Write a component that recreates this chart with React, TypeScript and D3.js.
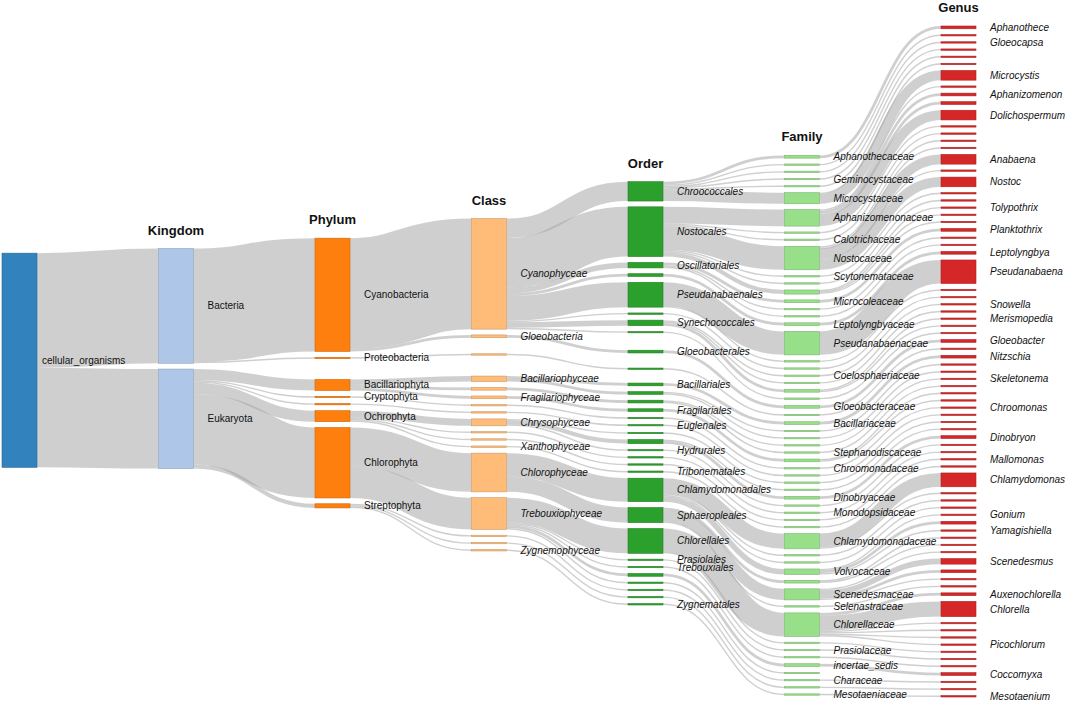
import React, { useMemo } from "react";
import * as d3 from "d3";

const ROOT = "cellular_organisms";

const kingdoms: [string, string][] = [
  ["Bacteria", ROOT],
  ["Eukaryota", ROOT],
];

const phyla: [string, string][] = [
  ["Cyanobacteria", "Bacteria"],
  ["Proteobacteria", "Bacteria"],
  ["Bacillariophyta", "Eukaryota"],
  ["Cryptophyta", "Eukaryota"],
  ["Euglenozoa", "Eukaryota"],
  ["Ochrophyta", "Eukaryota"],
  ["Chlorophyta", "Eukaryota"],
  ["Streptophyta", "Eukaryota"],
];

const classes: [string, string][] = [
  ["Cyanophyceae", "Cyanobacteria"],
  ["Gloeobacteria", "Cyanobacteria"],
  ["Betaproteobacteria", "Proteobacteria"],
  ["Bacillariophyceae", "Bacillariophyta"],
  ["Mediophyceae", "Bacillariophyta"],
  ["Fragilariophyceae", "Bacillariophyta"],
  ["Cryptophyceae", "Cryptophyta"],
  ["Euglenophyceae", "Euglenozoa"],
  ["Chrysophyceae", "Ochrophyta"],
  ["Eustigmatophyceae", "Ochrophyta"],
  ["Synurophyceae", "Ochrophyta"],
  ["Xanthophyceae", "Ochrophyta"],
  ["Chlorophyceae", "Chlorophyta"],
  ["Trebouxiophyceae", "Chlorophyta"],
  ["Charophyceae", "Streptophyta"],
  ["Klebsormidiophyceae", "Streptophyta"],
  ["Zygnemophyceae", "Streptophyta"],
];

const orders: [string, string][] = [
  ["Chroococcales", "Cyanophyceae"],
  ["Nostocales", "Cyanophyceae"],
  ["Oscillatoriales", "Cyanophyceae"],
  ["Leptolyngbyales", "Cyanophyceae"],
  ["Pseudanabaenales", "Cyanophyceae"],
  ["Chroococcidiopsidales", "Cyanophyceae"],
  ["Synechococcales", "Cyanophyceae"],
  ["Spirulinales", "Cyanophyceae"],
  ["Gloeobacterales", "Gloeobacteria"],
  ["Burkholderiales", "Betaproteobacteria"],
  ["Bacillariales", "Bacillariophyceae"],
  ["Naviculales", "Bacillariophyceae"],
  ["Thalassiosirales", "Mediophyceae"],
  ["Fragilariales", "Fragilariophyceae"],
  ["Pyrenomonadales", "Cryptophyceae"],
  ["Euglenales", "Euglenophyceae"],
  ["Ochromonadales", "Chrysophyceae"],
  ["Chromulinales", "Chrysophyceae"],
  ["Hydrurales", "Chrysophyceae"],
  ["Eustigmatales", "Eustigmatophyceae"],
  ["Synurales", "Synurophyceae"],
  ["Tribonematales", "Xanthophyceae"],
  ["Chlamydomonadales", "Chlorophyceae"],
  ["Sphaeropleales", "Chlorophyceae"],
  ["Chlorellales", "Trebouxiophyceae"],
  ["Prasiolales", "Trebouxiophyceae"],
  ["Trebouxiales", "Trebouxiophyceae"],
  ["Trebouxiophyceae_ordo", "Trebouxiophyceae"],
  ["Watanabeales", "Trebouxiophyceae"],
  ["Charales", "Charophyceae"],
  ["Klebsormidiales", "Klebsormidiophyceae"],
  ["Zygnematales", "Zygnemophyceae"],
];

// [family, order, reads assigned to the family itself (leaf families only)]
const families: [string, string, number?][] = [
  ["Aphanothecaceae", "Chroococcales"],
  ["Chroococcaceae", "Chroococcales"],
  ["Cyanothecaceae", "Chroococcales"],
  ["Geminocystaceae", "Chroococcales"],
  ["Cyanobacteriaceae", "Chroococcales"],
  ["Microcystaceae", "Chroococcales"],
  ["Aphanizomenonaceae", "Nostocales"],
  ["Hapalosiphonaceae", "Nostocales"],
  ["Calotrichaceae", "Nostocales"],
  ["Nostocaceae", "Nostocales"],
  ["Scytonemataceae", "Nostocales"],
  ["Rivulariaceae", "Nostocales"],
  ["Tolypothrichaceae", "Nostocales"],
  ["Microcoleaceae", "Oscillatoriales"],
  ["Oscillatoriaceae", "Oscillatoriales"],
  ["Gomontiellaceae", "Oscillatoriales"],
  ["Leptolyngbyaceae", "Leptolyngbyales"],
  ["Pseudanabaenaceae", "Pseudanabaenales"],
  ["Prochlorotrichaceae", "Pseudanabaenales"],
  ["Chroococcidiopsidaceae", "Chroococcidiopsidales"],
  ["Coelosphaeriaceae", "Synechococcales"],
  ["Synechococcaceae", "Synechococcales"],
  ["Merismopediaceae", "Synechococcales"],
  ["Spirulinaceae", "Spirulinales"],
  ["Gloeobacteraceae", "Gloeobacterales"],
  ["Comamonadaceae", "Burkholderiales"],
  ["Bacillariaceae", "Bacillariales"],
  ["Naviculaceae", "Naviculales"],
  ["Pinnulariaceae", "Naviculales"],
  ["Skeletonemataceae", "Thalassiosirales"],
  ["Stephanodiscaceae", "Thalassiosirales"],
  ["Fragilariaceae", "Fragilariales"],
  ["Chroomonadaceae", "Pyrenomonadales"],
  ["Euglenaceae", "Euglenales"],
  ["Ochromonadaceae", "Ochromonadales"],
  ["Chromulinaceae", "Chromulinales"],
  ["Dinobryaceae", "Chromulinales"],
  ["Hydruraceae", "Hydrurales"],
  ["Monodopsidaceae", "Eustigmatales"],
  ["Mallomonadaceae", "Synurales"],
  ["Tribonemataceae", "Tribonematales"],
  ["Chlamydomonadaceae", "Chlamydomonadales"],
  ["Haematococcaceae", "Chlamydomonadales"],
  ["Dunaliellaceae", "Chlamydomonadales"],
  ["Volvocaceae", "Chlamydomonadales"],
  ["Hydrodictyaceae", "Sphaeropleales"],
  ["Scenedesmaceae", "Sphaeropleales"],
  ["Selenastraceae", "Sphaeropleales"],
  ["Chlorellaceae", "Chlorellales"],
  ["Oocystaceae", "Chlorellales"],
  ["Prasiolaceae", "Prasiolales"],
  ["Trebouxiaceae", "Trebouxiales"],
  ["incertae_sedis", "Trebouxiophyceae_ordo"],
  ["Watanabeaceae", "Watanabeales", 1],
  ["Characeae", "Charales"],
  ["Klebsormidiaceae", "Klebsormidiales"],
  ["Mesotaeniaceae", "Zygnematales"],
];

const genera: [string, string, number][] = [
  ["Aphanothece", "Aphanothecaceae", 2],
  ["Chroococcus", "Chroococcaceae", 1],
  ["Gloeocapsa", "Cyanothecaceae", 1],
  ["Geminocystis", "Geminocystaceae", 1],
  ["Cyanobacterium", "Cyanobacteriaceae", 1],
  ["Sphaerocavum", "Microcystaceae", 1],
  ["Microcystis", "Microcystaceae", 7],
  ["Cuspidothrix", "Aphanizomenonaceae", 1],
  ["Aphanizomenon", "Aphanizomenonaceae", 2],
  ["Cylindrospermopsis", "Aphanizomenonaceae", 2],
  ["Dolichospermum", "Aphanizomenonaceae", 7],
  ["Fischerella", "Hapalosiphonaceae", 1],
  ["Calothrix", "Calotrichaceae", 1],
  ["Cylindrospermum", "Nostocaceae", 1],
  ["Desmonostoc", "Nostocaceae", 1],
  ["Anabaena", "Nostocaceae", 7],
  ["Trichormus", "Nostocaceae", 1],
  ["Nostoc", "Nostocaceae", 7],
  ["Scytonema", "Scytonemataceae", 1],
  ["Rivularia", "Rivulariaceae", 1],
  ["Tolypothrix", "Tolypothrichaceae", 1],
  ["Hassallia", "Tolypothrichaceae", 1],
  ["Spirirestis", "Tolypothrichaceae", 1],
  ["Planktothrix", "Microcoleaceae", 2],
  ["Oscillatoria", "Oscillatoriaceae", 1],
  ["Crinalium", "Gomontiellaceae", 1],
  ["Leptolyngbya", "Leptolyngbyaceae", 2],
  ["Pseudanabaena", "Pseudanabaenaceae", 17],
  ["Prochlorothrix", "Prochlorotrichaceae", 1],
  ["Chroococcidiopsis", "Chroococcidiopsidaceae", 1],
  ["Snowella", "Coelosphaeriaceae", 1],
  ["Synechococcus", "Synechococcaceae", 1],
  ["Merismopedia", "Merismopediaceae", 1],
  ["Synechocystis", "Merismopediaceae", 1],
  ["Spirulina", "Spirulinaceae", 1],
  ["Gloeobacter", "Gloeobacteraceae", 2],
  ["Limnohabitans", "Comamonadaceae", 1],
  ["Nitzschia", "Bacillariaceae", 2],
  ["Navicula", "Naviculaceae", 1],
  ["Pinnularia", "Pinnulariaceae", 1],
  ["Skeletonema", "Skeletonemataceae", 1],
  ["Cyclotella", "Stephanodiscaceae", 1],
  ["Fragilaria", "Fragilariaceae", 1],
  ["Asterionella", "Fragilariaceae", 1],
  ["Chroomonas", "Chroomonadaceae", 1],
  ["Euglena", "Euglenaceae", 1],
  ["Ochromonas", "Ochromonadaceae", 1],
  ["Chromulina", "Chromulinaceae", 1],
  ["Dinobryon", "Dinobryaceae", 2],
  ["Hydrurus", "Hydruraceae", 1],
  ["Nannochloropsis", "Monodopsidaceae", 1],
  ["Mallomonas", "Mallomonadaceae", 1],
  ["Tribonema", "Tribonemataceae", 1],
  ["Chlamydomonas", "Chlamydomonadaceae", 10],
  ["Chloromonas", "Chlamydomonadaceae", 1],
  ["Haematococcus", "Haematococcaceae", 1],
  ["Dunaliella", "Dunaliellaceae", 1],
  ["Gonium", "Volvocaceae", 1],
  ["Pandorina", "Volvocaceae", 2],
  ["Yamagishiella", "Volvocaceae", 1],
  ["Pediastrum", "Hydrodictyaceae", 1],
  ["Hydrodictyon", "Hydrodictyaceae", 1],
  ["Desmodesmus", "Scenedesmaceae", 1],
  ["Scenedesmus", "Scenedesmaceae", 4],
  ["Tetradesmus", "Scenedesmaceae", 2],
  ["Coelastrum", "Scenedesmaceae", 1],
  ["Monoraphidium", "Selenastraceae", 1],
  ["Auxenochlorella", "Chlorellaceae", 2],
  ["Chlorella", "Chlorellaceae", 11],
  ["Micractinium", "Chlorellaceae", 1],
  ["Parachlorella", "Chlorellaceae", 1],
  ["Dictyosphaerium", "Chlorellaceae", 1],
  ["Picochlorum", "Chlorellaceae", 1],
  ["Oocystis", "Oocystaceae", 1],
  ["Prasiola", "Prasiolaceae", 1],
  ["Trebouxia", "Trebouxiaceae", 1],
  ["Coccomyxa", "incertae_sedis", 2],
  ["Chara", "Characeae", 1],
  ["Klebsormidium", "Klebsormidiaceae", 1],
  ["Mesotaenium", "Mesotaeniaceae", 1],
];

const shownLabels: string[] = [
  ROOT, "Bacteria", "Eukaryota",
  "Cyanobacteria", "Proteobacteria", "Bacillariophyta", "Cryptophyta", "Ochrophyta", "Chlorophyta", "Streptophyta",
  "Cyanophyceae", "Gloeobacteria", "Bacillariophyceae", "Fragilariophyceae", "Chrysophyceae", "Xanthophyceae",
  "Chlorophyceae", "Trebouxiophyceae", "Zygnemophyceae",
  "Chroococcales", "Nostocales", "Oscillatoriales", "Pseudanabaenales", "Synechococcales", "Gloeobacterales",
  "Bacillariales", "Fragilariales", "Euglenales", "Hydrurales", "Tribonematales", "Chlamydomonadales",
  "Sphaeropleales", "Chlorellales", "Prasiolales", "Trebouxiales", "Zygnematales",
  "Aphanothecaceae", "Geminocystaceae", "Microcystaceae", "Aphanizomenonaceae", "Calotrichaceae", "Nostocaceae",
  "Scytonemataceae", "Microcoleaceae", "Leptolyngbyaceae", "Pseudanabaenaceae", "Coelosphaeriaceae",
  "Gloeobacteraceae", "Bacillariaceae", "Stephanodiscaceae", "Chroomonadaceae", "Dinobryaceae",
  "Monodopsidaceae", "Chlamydomonadaceae", "Volvocaceae", "Scenedesmaceae", "Selenastraceae", "Chlorellaceae",
  "Prasiolaceae", "incertae_sedis", "Characeae", "Mesotaeniaceae",
  "Aphanothece", "Gloeocapsa", "Microcystis", "Aphanizomenon", "Dolichospermum", "Anabaena", "Nostoc",
  "Tolypothrix", "Planktothrix", "Leptolyngbya", "Pseudanabaena", "Snowella", "Merismopedia", "Gloeobacter",
  "Nitzschia", "Skeletonema", "Chroomonas", "Dinobryon", "Mallomonas", "Chlamydomonas", "Gonium",
  "Yamagishiella", "Scenedesmus", "Auxenochlorella", "Chlorella", "Picochlorum", "Coccomyxa", "Mesotaenium",
];

const rankTitles = ["", "Kingdom", "Phylum", "Class", "Order", "Family", "Genus"];
const rankColors = ["#3182bd", "#aec7e8", "#ff7f0e", "#ffbb78", "#2ca02c", "#98df8a", "#d62728"];
// share of the centre-anchored relaxation in each column (rest: top-down relaxation)
const blendWeights = [0.52, 0.52, 0.51, 0.5, 0.55, 0.02, 0];

const W = 1072;
const HGT = 702;
const X0 = 2;
const X1 = 976;
const Y0 = 26;
const Y1 = 697;
const NODE_W = 35;
const PAD = 5.8;
const ITER = 32;
const CURV = 0.5;

type SNode = {
  name: string; depth: number; own: number; parent: SNode | null; children: SNode[];
  value: number; x: number; y: number; dy: number; sourceLinks: SLink[]; targetLinks: SLink[];
};
type SLink = { source: SNode; target: SNode; value: number; dy: number; sy: number; ty: number };

function buildGraph() {
  const ranks: [string, string, number?][][] = [[[ROOT, "", 0]], kingdoms, phyla, classes, orders, families, genera];
  const byName = new Map<string, SNode>();
  const cols: SNode[][] = [];
  ranks.forEach((arr, depth) => {
    cols.push(arr.map(([name, parent, own]) => {
      const n: SNode = {
        name, depth, own: own ?? 0, parent: byName.get(parent) ?? null, children: [],
        value: 0, x: 0, y: 0, dy: 0, sourceLinks: [], targetLinks: [],
      };
      byName.set(name, n);
      if (n.parent) n.parent.children.push(n);
      return n;
    }));
  });
  for (let d = cols.length - 1; d >= 0; d--) {
    cols[d].forEach((n) => { n.value = n.children.length ? d3.sum(n.children, (c) => c.value) : n.own; });
  }
  const nodes = cols.flat();
  const links: SLink[] = [];
  nodes.forEach((n) => {
    if (n.parent) {
      const l: SLink = { source: n.parent, target: n, value: n.value, dy: 0, sy: 0, ty: 0 };
      links.push(l);
      n.parent.sourceLinks.push(l);
      n.targetLinks.push(l);
    }
  });
  const H = Y1 - Y0;
  const kx = (X1 - X0 - NODE_W) / (cols.length - 1);
  nodes.forEach((n) => { n.x = X0 + n.depth * kx; });
  const ky = d3.min(cols, (c) => (H - (c.length - 1) * PAD) / d3.sum(c, (n) => n.value)) as number;
  nodes.forEach((n) => { n.dy = n.value * ky; });
  links.forEach((l) => { l.dy = l.value * ky; });
  return { cols, nodes, links, H };
}

function relaxPositions(cols: SNode[][], H: number, sym: boolean): number[][] {
  const center = (n: SNode) => n.y + n.dy / 2;
  const oldResolve = () => cols.forEach((col) => {
    let y0 = 0;
    col.forEach((n) => { const dy = y0 - n.y; if (dy > 0) n.y += dy; y0 = n.y + n.dy + PAD; });
    const over = y0 - PAD - H;
    if (over > 0) {
      const last = col[col.length - 1];
      last.y -= over;
      y0 = last.y;
      for (let i = col.length - 2; i >= 0; i--) {
        const n = col[i];
        const d = n.y + n.dy + PAD - y0;
        if (d > 0) n.y -= d;
        y0 = n.y;
      }
    }
  });
  const t2b = (col: SNode[], y: number, i: number) => {
    for (; i < col.length; ++i) { const n = col[i]; if (y - n.y > 1e-6) n.y = y; y = n.y + n.dy + PAD; }
  };
  const b2t = (col: SNode[], y: number, i: number) => {
    for (; i >= 0; --i) { const n = col[i]; if (n.y + n.dy - y > 1e-6) n.y = y - n.dy; y = n.y - PAD; }
  };
  const symResolve = () => cols.forEach((col) => {
    const i = col.length >> 1;
    const s = col[i];
    b2t(col, s.y - PAD, i - 1);
    t2b(col, s.y + s.dy + PAD, i + 1);
    b2t(col, H, col.length - 1);
    t2b(col, 0, 0);
  });
  const resolve = () => (sym ? symResolve() : oldResolve());
  const relaxLR = (alpha: number) => cols.forEach((col) => col.forEach((n) => {
    if (n.targetLinks.length) {
      const y = d3.sum(n.targetLinks, (l) => center(l.source) * l.value) / d3.sum(n.targetLinks, (l) => l.value);
      n.y += (y - center(n)) * alpha;
    }
  }));
  const relaxRL = (alpha: number) => cols.slice().reverse().forEach((col) => col.forEach((n) => {
    if (n.sourceLinks.length) {
      const y = d3.sum(n.sourceLinks, (l) => center(l.target) * l.value) / d3.sum(n.sourceLinks, (l) => l.value);
      n.y += (y - center(n)) * alpha;
    }
  }));
  if (sym) {
    cols.forEach((col) => {
      let y = 0;
      col.forEach((n) => { n.y = y; y += n.dy + PAD; });
      const extra = (H - y + PAD) / (col.length + 1);
      col.forEach((n, i) => { n.y += extra * (i + 1); });
    });
  } else {
    cols.forEach((col) => col.forEach((n, i) => { n.y = i; }));
  }
  resolve();
  let alpha = 1;
  for (let it = 0; it < ITER; it++) {
    alpha *= 0.99;
    relaxRL(alpha);
    resolve();
    relaxLR(alpha);
    resolve();
  }
  return cols.map((col) => col.map((n) => n.y));
}

function layout() {
  const g = buildGraph();
  const a = relaxPositions(g.cols, g.H, false);
  const b = relaxPositions(g.cols, g.H, true);
  g.cols.forEach((col, d) => {
    const w = blendWeights[d];
    col.forEach((n, i) => { n.y = Y0 + (1 - w) * a[d][i] + w * b[d][i]; });
  });
  g.nodes.forEach((n) => {
    n.sourceLinks.sort((p, q) => p.target.y - q.target.y);
    n.targetLinks.sort((p, q) => p.source.y - q.source.y);
  });
  g.nodes.forEach((n) => {
    let sy = 0;
    let ty = 0;
    n.sourceLinks.forEach((l) => { l.sy = sy; sy += l.dy; });
    n.targetLinks.forEach((l) => { l.ty = ty; ty += l.dy; });
  });
  return g;
}

function linkPath(l: SLink) {
  const x0 = l.source.x + NODE_W;
  const x1 = l.target.x;
  const xi = d3.interpolateNumber(x0, x1);
  const x2 = xi(CURV);
  const x3 = xi(1 - CURV);
  const y0 = l.source.y + l.sy + l.dy / 2;
  const y1 = l.target.y + l.ty + l.dy / 2;
  return `M${x0},${y0}C${x2},${y0} ${x3},${y1} ${x1},${y1}`;
}

export default function App() {
  const { cols, nodes, links } = useMemo(layout, []);
  const shown = new Set(shownLabels);
  const font = "'Liberation Sans', Arial, Helvetica, sans-serif";
  return (
    <svg width={W} height={HGT} style={{ position: "absolute", left: 0, top: 0, background: "#fff" }}>
      <g>
        {links.slice().sort((a, b) => b.dy - a.dy).map((l, i) => (
          <path key={i} d={linkPath(l)} fill="none" stroke="#a0a0a0" strokeOpacity={0.5}
            strokeWidth={Math.max(1, l.dy)} />
        ))}
      </g>
      <g>
        {nodes.map((n) => {
          const c = rankColors[n.depth];
          return (
            <rect key={n.name} x={n.x} y={n.y} width={NODE_W} height={Math.max(1, n.dy)}
              fill={c} stroke={d3.rgb(c).darker(0.6).formatHex()} strokeWidth={0.6} />
          );
        })}
      </g>
      <g fontFamily={font} fontSize={10} fill="#111">
        {nodes.filter((n) => shown.has(n.name)).map((n) => (
          <text key={n.name} x={n.x + NODE_W + (n.depth === 0 ? 5 : 14)} y={n.y + n.dy / 2} dy="0.35em"
            fontStyle={n.depth >= 3 ? "italic" : "normal"}>
            {n.name}
          </text>
        ))}
      </g>
      <g fontFamily={font} fontSize={13} fontWeight="bold" fill="#111" textAnchor="middle">
        {cols.map((col, d) => d === 0 ? null : (
          <text key={d} x={col[0].x + NODE_W / 2} y={(d3.min(col, (n) => n.y) as number) - 14}>
            {rankTitles[d]}
          </text>
        ))}
      </g>
    </svg>
  );
}
